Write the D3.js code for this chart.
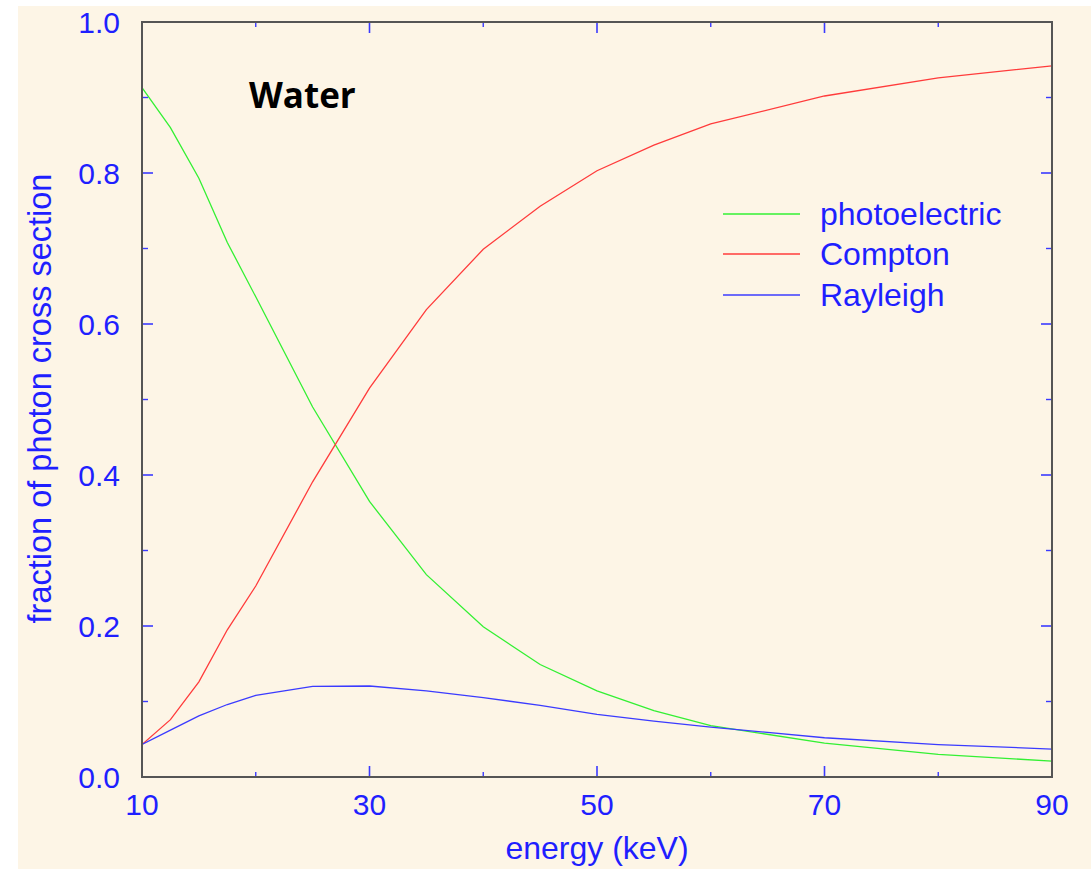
<!DOCTYPE html>
<html>
<head>
<meta charset="utf-8">
<script src="https://cdn.jsdelivr.net/npm/d3@7"></script>
<style>
  html, body { margin: 0; padding: 0; background: #ffffff; }
  svg { display: block; }
</style>
</head>
<body>
<svg id="chart" width="1091" height="869"></svg>
<script>
// Photon energies (keV)
const energies = [10, 12.5, 15, 17.5, 20, 25, 30, 35, 40, 45, 50, 55, 60, 70, 80, 90];
// Fraction of total photon cross section in water, per interaction
const photoelectric = [0.913, 0.860, 0.793, 0.708, 0.636, 0.490, 0.365, 0.268, 0.199, 0.149, 0.114, 0.088, 0.068, 0.045, 0.030, 0.021];
const compton       = [0.043, 0.076, 0.126, 0.195, 0.253, 0.391, 0.515, 0.619, 0.699, 0.756, 0.803, 0.837, 0.865, 0.902, 0.926, 0.942];
const rayleigh      = [0.043, 0.062, 0.081, 0.096, 0.108, 0.120, 0.1205, 0.114, 0.105, 0.095, 0.083, 0.074, 0.066, 0.052, 0.043, 0.037];

const seriesNames = ["photoelectric", "Compton", "Rayleigh"];
const seriesColors = ["#33f033", "#ff3b3b", "#3b3bff"];

const xMajorTicks = [10, 30, 50, 70, 90];
const xMinorTicks = [20, 40, 60, 80];
const yMajorTicks = [0.0, 0.2, 0.4, 0.6, 0.8, 1.0];
const yMinorTicks = [0.1, 0.3, 0.5, 0.7, 0.9];

const svg = d3.select("#chart");
const W = 1091, H = 869;
const plot = { left: 142, right: 1052, top: 22, bottom: 777 };
const textBlue = "#1f1fff";
const tickBlue = "#3a3aff";
const font = "'Liberation Sans', Arial, sans-serif";

// page background panel
svg.append("rect")
  .attr("x", 18).attr("y", 6)
  .attr("width", W - 18).attr("height", H - 6)
  .attr("fill", "#fdf5e6");

const x = d3.scaleLinear().domain([10, 90]).range([plot.left, plot.right]);
const y = d3.scaleLinear().domain([0, 1]).range([plot.bottom, plot.top]);

// tick marks on all four sides, pointing inward
const tickLayer = svg.append("g").attr("stroke", tickBlue);
function addTicks(values, len, width) {
  values.forEach(v => {
    tickLayer.append("line").attr("x1", x(v)).attr("x2", x(v))
      .attr("y1", plot.bottom).attr("y2", plot.bottom - len).attr("stroke-width", width);
    tickLayer.append("line").attr("x1", x(v)).attr("x2", x(v))
      .attr("y1", plot.top).attr("y2", plot.top + len).attr("stroke-width", width);
  });
}
function addYTicks(values, len, width) {
  values.forEach(v => {
    tickLayer.append("line").attr("y1", y(v)).attr("y2", y(v))
      .attr("x1", plot.left).attr("x2", plot.left + len).attr("stroke-width", width);
    tickLayer.append("line").attr("y1", y(v)).attr("y2", y(v))
      .attr("x1", plot.right).attr("x2", plot.right - len).attr("stroke-width", width);
  });
}
addTicks(xMajorTicks, 11, 1.6);
addTicks(xMinorTicks, 5, 1.4);
addYTicks(yMajorTicks, 11, 1.6);
addYTicks(yMinorTicks, 6, 1.4);

// tick labels
svg.append("g").selectAll("text").data(xMajorTicks).join("text")
  .attr("x", d => x(d)).attr("y", 815)
  .attr("text-anchor", "middle")
  .attr("font-family", font).attr("font-size", 30)
  .attr("fill", textBlue)
  .text(d => d3.format("d")(d));

svg.append("g").selectAll("text").data(yMajorTicks).join("text")
  .attr("x", 120).attr("y", d => y(d) + 11)
  .attr("text-anchor", "end")
  .attr("font-family", font).attr("font-size", 30)
  .attr("fill", textBlue)
  .text(d => d3.format(".1f")(d));

// axis titles
svg.append("text")
  .attr("x", (plot.left + plot.right) / 2).attr("y", 859)
  .attr("text-anchor", "middle")
  .attr("font-family", font).attr("font-size", 32)
  .attr("fill", textBlue)
  .text("energy (keV)");

svg.append("text")
  .attr("transform", `translate(51, ${(plot.top + plot.bottom) / 2 - 1}) rotate(-90)`)
  .attr("text-anchor", "middle")
  .attr("font-family", font).attr("font-size", 32.5)
  .attr("fill", textBlue)
  .text("fraction of photon cross section");

// curves
svg.append("clipPath").attr("id", "plot-clip")
  .append("rect").attr("x", plot.left).attr("y", plot.top)
  .attr("width", plot.right - plot.left).attr("height", plot.bottom - plot.top);

const line = d3.line().x(d => x(d[0])).y(d => y(d[1]));
const allSeries = [photoelectric, compton, rayleigh];
svg.append("g").attr("clip-path", "url(#plot-clip)")
  .selectAll("path").data(allSeries).join("path")
  .attr("d", vals => line(energies.map((e, i) => [e, vals[i]])))
  .attr("fill", "none")
  .attr("stroke", (d, i) => seriesColors[i])
  .attr("stroke-width", 1.3);

// frame
svg.append("rect")
  .attr("x", plot.left).attr("y", plot.top)
  .attr("width", plot.right - plot.left).attr("height", plot.bottom - plot.top)
  .attr("fill", "none").attr("stroke", "#555555").attr("stroke-width", 2);

// material label
svg.append("text")
  .attr("x", 249).attr("y", 108)
  .attr("font-family", "'Open Sans', 'Noto Sans', sans-serif")
  .attr("font-weight", "bold").attr("font-size", 35)
  .attr("fill", "#000000")
  .text("Water");

// legend
const legendY = [214, 254, 295];
const legend = svg.append("g");
seriesNames.forEach((name, i) => {
  legend.append("line")
    .attr("x1", 723).attr("x2", 800)
    .attr("y1", legendY[i]).attr("y2", legendY[i])
    .attr("stroke", seriesColors[i]).attr("stroke-width", 1.3);
  legend.append("text")
    .attr("x", 820).attr("y", legendY[i] + 11)
    .attr("font-family", font).attr("font-size", 32)
    .attr("fill", textBlue)
    .text(name);
});
</script>
</body>
</html>
